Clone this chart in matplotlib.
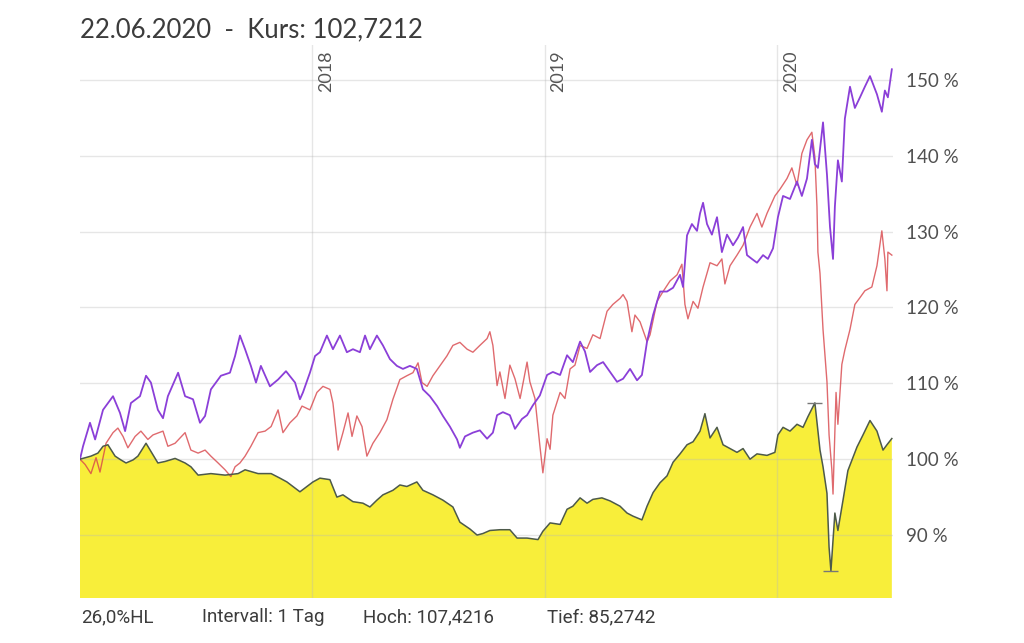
import matplotlib.pyplot as plt

# values (x in decimal years, y in %)
purple_x = [2017.000, 2017.013, 2017.043, 2017.065, 2017.099, 2017.142, 2017.172, 2017.194, 2017.219, 2017.258,
            2017.284, 2017.305, 2017.335, 2017.357, 2017.378, 2017.422, 2017.452, 2017.486, 2017.516, 2017.538,
            2017.563, 2017.606, 2017.645, 2017.667, 2017.688, 2017.710, 2017.735, 2017.757, 2017.778, 2017.817,
            2017.852, 2017.886, 2017.925, 2017.946, 2017.959, 2017.989, 2018.011, 2018.032, 2018.062, 2018.088,
            2018.118, 2018.148, 2018.174, 2018.204, 2018.226, 2018.247, 2018.277, 2018.303, 2018.333, 2018.363,
            2018.389, 2018.419, 2018.449, 2018.475, 2018.505, 2018.536, 2018.561, 2018.591, 2018.622, 2018.634,
            2018.656, 2018.690, 2018.720, 2018.751, 2018.776, 2018.794, 2018.819, 2018.849, 2018.871, 2018.901,
            2018.923, 2018.948, 2018.978, 2019.009, 2019.034, 2019.065, 2019.095, 2019.120, 2019.151, 2019.172,
            2019.194, 2019.224, 2019.250, 2019.280, 2019.310, 2019.336, 2019.366, 2019.396, 2019.417, 2019.439,
            2019.465, 2019.495, 2019.525, 2019.551, 2019.581, 2019.594, 2019.611, 2019.632, 2019.654, 2019.667,
            2019.680, 2019.697, 2019.718, 2019.740, 2019.761, 2019.783, 2019.809, 2019.830, 2019.852, 2019.869,
            2019.890, 2019.912, 2019.938, 2019.959, 2019.981, 2020.002, 2020.024, 2020.054, 2020.084, 2020.105,
            2020.127, 2020.148, 2020.161, 2020.174, 2020.196, 2020.213, 2020.226, 2020.239, 2020.247, 2020.260,
            2020.277, 2020.290, 2020.312, 2020.333, 2020.355, 2020.376, 2020.398, 2020.428, 2020.449, 2020.462,
            2020.475, 2020.492]
purple_v = [100, 101.7, 104.8, 102.6, 106.5, 108.3, 106.1, 103.7, 107.4, 108.3,
            111.0, 110.1, 106.5, 105.4, 108.3, 111.4, 108.3, 107.9, 104.8, 105.7,
            109.2, 111.0, 111.4, 113.6, 116.3, 114.5, 112.3, 110.1, 112.3, 109.6,
            110.5, 111.6, 110.1, 107.9, 108.8, 111.4, 113.6, 114.1, 116.3, 114.5,
            116.3, 114.1, 114.5, 114.1, 116.3, 114.5, 116.3, 115.0, 113.2, 112.3,
            111.9, 112.3, 111.9, 109.2, 108.3, 107.0, 105.7, 104.3, 102.6, 101.5,
            103.0, 103.5, 103.8, 102.7, 103.5, 105.8, 106.2, 105.8, 104.0, 105.3,
            105.8, 107.1, 108.4, 111.1, 111.5, 111.1, 113.7, 112.8, 115.5, 114.2,
            111.5, 112.4, 112.8, 111.5, 110.2, 110.6, 111.9, 110.4, 111.1, 115.5,
            119.0, 122.1, 122.1, 122.6, 124.3, 122.7, 129.5, 131.0, 130.1, 132.4,
            133.8, 131.0, 129.6, 131.9, 127.3, 129.6, 128.2, 129.2, 130.6, 126.9,
            126.4, 125.9, 126.9, 126.4, 127.8, 131.9, 134.7, 134.3, 136.6, 134.7,
            137.0, 142.1, 138.9, 138.4, 144.4, 137.5, 130.6, 126.4, 133.3, 139.4,
            136.6, 144.9, 149.1, 146.3, 147.7, 149.1, 150.5, 148.1, 145.8, 148.6,
            147.7, 151.4]

red_x = [2017.000, 2017.022, 2017.047, 2017.069, 2017.086, 2017.112, 2017.142, 2017.163, 2017.185, 2017.206,
         2017.237, 2017.262, 2017.292, 2017.314, 2017.357, 2017.378, 2017.409, 2017.452, 2017.477, 2017.508,
         2017.538, 2017.563, 2017.594, 2017.624, 2017.649, 2017.667, 2017.688, 2017.710, 2017.735, 2017.766,
         2017.796, 2017.822, 2017.852, 2017.873, 2017.903, 2017.933, 2017.955, 2017.989, 2018.019, 2018.045,
         2018.075, 2018.088, 2018.110, 2018.131, 2018.153, 2018.170, 2018.191, 2018.213, 2018.234, 2018.260,
         2018.290, 2018.320, 2018.346, 2018.376, 2018.406, 2018.432, 2018.454, 2018.471, 2018.493, 2018.518,
         2018.548, 2018.578, 2018.604, 2018.634, 2018.665, 2018.690, 2018.720, 2018.751, 2018.763, 2018.776,
         2018.794, 2018.806, 2018.828, 2018.849, 2018.871, 2018.893, 2018.923, 2018.935, 2018.957, 2018.978,
         2018.991, 2019.009, 2019.022, 2019.034, 2019.065, 2019.086, 2019.108, 2019.129, 2019.151, 2019.181,
         2019.206, 2019.237, 2019.267, 2019.292, 2019.323, 2019.336, 2019.353, 2019.374, 2019.387, 2019.409,
         2019.439, 2019.452, 2019.482, 2019.508, 2019.538, 2019.568, 2019.589, 2019.602, 2019.615, 2019.637,
         2019.658, 2019.680, 2019.710, 2019.740, 2019.761, 2019.774, 2019.796, 2019.826, 2019.852, 2019.882,
         2019.912, 2019.933, 2019.955, 2019.989, 2020.011, 2020.041, 2020.062, 2020.084, 2020.105, 2020.127,
         2020.148, 2020.161, 2020.170, 2020.174, 2020.183, 2020.196, 2020.213, 2020.222, 2020.234, 2020.239,
         2020.252, 2020.260, 2020.277, 2020.290, 2020.312, 2020.333, 2020.355, 2020.376, 2020.406, 2020.428,
         2020.449, 2020.462, 2020.471, 2020.475, 2020.492]
red_v = [100, 99.3, 98.1, 100.2, 98.3, 102.1, 103.5, 104.1, 103.0, 101.5,
         103.0, 103.7, 102.6, 103.2, 103.7, 101.7, 102.1, 103.5, 101.2, 100.8,
         101.2, 100.4, 99.5, 98.6, 97.7, 99.0, 99.5, 100.4, 101.7, 103.5,
         103.7, 104.3, 106.5, 103.5, 104.8, 105.7, 107.0, 106.5, 108.8, 109.6,
         109.2, 107.4, 101.2, 103.5, 106.1, 103.0, 105.7, 104.3, 100.4, 102.1,
         103.5, 105.2, 107.9, 110.5, 111.0, 111.4, 112.7, 110.1, 109.6, 111.0,
         112.3, 113.6, 115.0, 115.4, 114.5, 114.1, 115.0, 115.9, 116.8, 115.0,
         109.7, 111.5, 108.0, 112.4, 110.6, 108.0, 112.8, 110.2, 108.0, 101.8,
         98.2, 102.7, 101.3, 105.8, 108.8, 108.0, 111.9, 112.4, 115.0, 114.6,
         116.4, 115.9, 119.5, 120.4, 121.2, 121.7, 120.8, 116.8, 119.0, 118.1,
         115.5, 116.4, 120.8, 122.1, 123.5, 124.3, 125.7, 120.4, 118.5, 120.8,
         119.9, 122.7, 125.9, 125.5, 126.4, 123.1, 125.5, 126.9, 128.2, 130.6,
         132.4, 130.6, 132.4, 134.7, 135.6, 137.0, 138.4, 136.1, 140.3, 142.1,
         143.1, 139.8, 133.3, 127.3, 124.5, 117.1, 110.2, 103.2, 98.6, 95.4,
         108.8, 104.6, 112.5, 114.4, 117.1, 120.4, 121.3, 122.2, 122.7, 125.5,
         130.1, 126.4, 122.2, 127.3, 126.9]

kurs_x = [2017.000, 2017.047, 2017.077, 2017.099, 2017.120, 2017.151, 2017.176, 2017.198, 2017.228, 2017.249,
          2017.284, 2017.335, 2017.366, 2017.409, 2017.452, 2017.477, 2017.508, 2017.563, 2017.624, 2017.680,
          2017.710, 2017.766, 2017.822, 2017.860, 2017.890, 2017.946, 2018.002, 2018.032, 2018.075, 2018.105,
          2018.131, 2018.174, 2018.217, 2018.247, 2018.277, 2018.303, 2018.346, 2018.376, 2018.406, 2018.449,
          2018.475, 2018.518, 2018.561, 2018.604, 2018.634, 2018.677, 2018.708, 2018.733, 2018.763, 2018.806,
          2018.849, 2018.880, 2018.923, 2018.970, 2018.991, 2019.022, 2019.065, 2019.095, 2019.120, 2019.151,
          2019.181, 2019.206, 2019.245, 2019.280, 2019.323, 2019.353, 2019.378, 2019.417, 2019.439, 2019.465,
          2019.495, 2019.525, 2019.551, 2019.581, 2019.611, 2019.637, 2019.667, 2019.688, 2019.710, 2019.740,
          2019.766, 2019.796, 2019.826, 2019.852, 2019.882, 2019.912, 2019.955, 2019.989, 2020.002, 2020.024,
          2020.054, 2020.084, 2020.110, 2020.131, 2020.161, 2020.183, 2020.196, 2020.213, 2020.222, 2020.230,
          2020.247, 2020.260, 2020.282, 2020.303, 2020.342, 2020.368, 2020.398, 2020.428, 2020.454, 2020.471,
          2020.492]
kurs_v = [100, 100.4, 100.8, 101.7, 101.9, 100.4, 99.9, 99.5, 99.9, 100.4,
          102.1, 99.5, 99.7, 100.1, 99.5, 99.0, 97.9, 98.1, 97.9, 98.1,
          98.6, 98.1, 98.1, 97.5, 97.0, 95.7, 97.0, 97.5, 97.3, 95.0,
          95.3, 94.4, 94.2, 93.7, 94.6, 95.3, 95.9, 96.6, 96.4, 97.0,
          95.9, 95.3, 94.6, 93.7, 91.7, 90.8, 90.0, 90.2, 90.6, 90.7,
          90.7, 89.6, 89.6, 89.4, 90.5, 91.6, 91.4, 93.4, 93.8, 94.9,
          94.2, 94.7, 94.9, 94.5, 93.8, 92.9, 92.5, 92.0, 93.8, 95.6,
          96.9, 97.8, 99.6, 100.7, 101.9, 102.3, 103.7, 106.0, 102.8, 104.2,
          101.9, 101.4, 100.9, 101.4, 100.0, 100.7, 100.5, 100.9, 103.2, 104.2,
          103.7, 104.6, 104.2, 105.6, 107.4216, 101.2, 99.0, 95.5, 88.4, 85.2742,
          92.9, 90.6, 94.6, 98.5, 101.6, 103.2, 105.1, 103.7, 101.2, 101.9,
          102.7212]

y_ticks = [90, 100, 110, 120, 130, 140, 150]
years = [2018, 2019, 2020]
hoch = (2020.161, 107.4216)
tief = (2020.230, 85.2742)

title = "22.06.2020  -  Kurs: 102,7212"
footer = ["26,0%HL", "Intervall: 1 Tag", "Hoch: 107,4216", "Tief: 85,2742"]
footer_px = [81, 202, 363, 547]

plt.rcParams['font.family'] = ['Lato', 'DejaVu Sans']

fig = plt.figure(figsize=(10.24, 6.43), dpi=100)
ax = fig.add_axes([80 / 1024, 1 - 598 / 643, 813 / 1024, 553 / 643])

ax.fill_between(kurs_x, kurs_v, 0, color='#f8ee3a', lw=0, zorder=1)
for v in y_ticks:
    ax.axhline(v, color='#b8b8b8', lw=1, alpha=0.35, zorder=2)
for yr in years:
    ax.axvline(yr, color='#b8b8b8', lw=1, alpha=0.35, zorder=2)

ax.plot(red_x, red_v, color='#d8454a', lw=1.0, alpha=0.8, zorder=3)
ax.plot(purple_x, purple_v, color='#8b3fd8', lw=1.3, zorder=3)
ax.plot(kurs_x, kurs_v, color='#4d5a4a', lw=1.1, zorder=4)
ax.hlines(hoch[1], hoch[0] - 0.032, hoch[0] + 0.032, color='#777777', lw=1, zorder=5)
ax.hlines(tief[1], tief[0] - 0.032, tief[0] + 0.032, color='#777777', lw=1, zorder=5)

ax.set_xlim(2017.0, 2020.497)
ax.set_ylim(81.7, 154.6)

for yr in years:
    ax.text(yr + 0.024, 153.9, str(yr), rotation=90, ha='left', va='top',
            fontsize=13, color='#555555')

ax.set_xticks([])
ax.yaxis.tick_right()
ax.set_yticks(y_ticks)
ax.set_yticklabels([f"{v} %" for v in y_ticks])
ax.tick_params(axis='y', length=0, pad=9, labelsize=13.5, labelcolor='#505050')
for s in ax.spines.values():
    s.set_visible(False)

fig.text(80 / 1024, 1 - 30 / 643, title, ha='left', va='center', fontsize=18.5, color='#3c3c3c')
for txt, px in zip(footer, footer_px):
    fig.text(px / 1024, 1 - 617 / 643, txt, ha='left', va='center', fontsize=13.5,
             color='#3c3c3c', family=['Roboto', 'DejaVu Sans'])

fig.savefig('out.png', dpi=100)
